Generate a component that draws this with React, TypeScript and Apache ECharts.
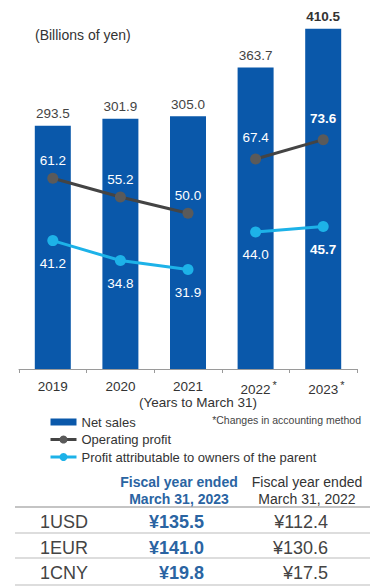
import React, { useEffect, useRef } from 'react';
import * as echarts from 'echarts';

const years = ['2019', '2020', '2021', '2022', '2023'];
const starredYears = ['2022', '2023'];
const netSales = [293.5, 301.9, 305.0, 363.7, 410.5];
const operatingProfit = [61.2, 55.2, 50.0, 67.4, 73.6];
const parentProfit = [41.2, 34.8, 31.9, 44.0, 45.7];
const breakIndex = 3; // changes in accounting method from 2022
const seriesNames = ['Net sales', 'Operating profit', 'Profit attributable to owners of the parent'];
const currencies = ['1USD', '1EUR', '1CNY'];
const rates2023 = [135.5, 141.0, 19.8];
const rates2022 = [112.4, 130.6, 17.5];
const header2023 = ['Fiscal year ended', 'March 31, 2023'];
const header2022 = ['Fiscal year ended', 'March 31, 2022'];

const FONT = '"Liberation Sans", Arial, Helvetica, sans-serif';
const BLUE = '#0a58aa';
const LIGHT = '#1db2e8';
const HEAD_BLUE = '#2a64a2';

function segment(values: number[], first: boolean) {
  const last = values.length - 1;
  return values.map((v, i) => {
    const inSeg = first ? i < breakIndex : i >= breakIndex;
    if (!inSeg) return '-';
    return { value: v, label: { fontWeight: i === last ? 'bold' : 'normal' } };
  });
}

export default function App() {
  const ref = useRef<HTMLDivElement>(null);
  useEffect(() => {
    if (!ref.current) return;
    const chart = echarts.init(ref.current, null, { renderer: 'svg' });

    const lineSeries = (name: string, values: number[], color: string, dotColor: string, pos: 'top' | 'bottom', dist: [number, number]) =>
      [true, false].map((first, k) => ({
        type: 'line',
        name,
        yAxisIndex: 1,
        data: segment(values, first),
        color: dotColor,
        symbol: 'circle',
        symbolSize: 11,
        lineStyle: { width: 3, color },
        itemStyle: { color: dotColor },
        z: 5,
        label: {
          show: true,
          position: pos,
          distance: dist[k],
          color: '#ffffff',
          fontSize: 13.5,
          fontFamily: FONT,
          formatter: (p: any) => Number(p.value).toFixed(1),
        },
      }));

    const rowY = [522, 548, 573];
    const tableGraphics: any[] = [];
    [507, 533, 558, 585].forEach((y, i) => {
      tableGraphics.push({
        type: 'line',
        shape: { x1: 15, y1: y, x2: 370, y2: y },
        style: { stroke: i === 0 ? '#c4c4c4' : '#d2d2d2', lineWidth: i === 0 ? 2 : 1.5 },
      });
    });
    header2023.forEach((t, i) => {
      tableGraphics.push({
        type: 'text', x: 179, y: 482 + i * 17,
        style: { text: t, align: 'center', verticalAlign: 'middle', fill: HEAD_BLUE, font: `bold 14px ${FONT}` },
      });
    });
    header2022.forEach((t, i) => {
      tableGraphics.push({
        type: 'text', x: 307, y: 482 + i * 17,
        style: { text: t, align: 'center', verticalAlign: 'middle', fill: '#333', font: `14px ${FONT}` },
      });
    });
    currencies.forEach((c, i) => {
      tableGraphics.push({
        type: 'text', x: 40, y: rowY[i],
        style: { text: c, align: 'left', verticalAlign: 'middle', fill: '#444', font: `18px ${FONT}` },
      });
      tableGraphics.push({
        type: 'text', x: 204, y: rowY[i],
        style: { text: '¥' + rates2023[i].toFixed(1), align: 'right', verticalAlign: 'middle', fill: HEAD_BLUE, font: `bold 18px ${FONT}` },
      });
      tableGraphics.push({
        type: 'text', x: 328, y: rowY[i],
        style: { text: '¥' + rates2022[i].toFixed(1), align: 'right', verticalAlign: 'middle', fill: '#444', font: `18px ${FONT}` },
      });
    });

    chart.setOption({
      animation: false,
      textStyle: { fontFamily: FONT },
      grid: { left: 19, right: 13, top: 20, bottom: 217 },
      legend: {
        orient: 'vertical',
        left: 44,
        top: 410,
        itemWidth: 26,
        itemHeight: 10,
        itemGap: 3.5,
        lineStyle: { width: 3 },
        textStyle: { fontSize: 13, color: '#333', fontFamily: FONT, lineHeight: 14 },
        data: [
          { name: seriesNames[0], icon: 'path://M0,0 H26 V7 H0 Z' },
          { name: seriesNames[1] },
          { name: seriesNames[2] },
        ],
      },
      xAxis: {
        type: 'category',
        data: years,
        axisLine: { lineStyle: { color: '#9a9a9a', width: 1 } },
        axisTick: { show: true, length: 4, lineStyle: { color: '#9a9a9a' } },
        axisLabel: {
          interval: 0,
          margin: 10,
          fontSize: 13.5,
          color: '#333',
          fontFamily: FONT,
          formatter: (v: string) => (starredYears.includes(v) ? `{p|*}{a|${v}}{s|*}` : `{a|${v}}`),
          rich: {
            a: { fontSize: 13.5, color: '#333', fontFamily: FONT },
            s: { fontSize: 11, color: '#333', fontFamily: FONT, padding: [0, 0, 9, 2] },
            p: { fontSize: 11, color: 'rgba(0,0,0,0)', fontFamily: FONT, padding: [0, 2, 9, 0] },
          },
        },
        name: '(Years to March 31)',
        nameLocation: 'middle',
        nameGap: 26,
        nameMoveOverlap: false,
        nameTextStyle: { fontSize: 13.5, color: '#333', fontFamily: FONT, padding: [0, 0, 0, 20] },
      },
      yAxis: [
        { type: 'value', min: 0, max: 421, show: false },
        { type: 'value', min: 0, max: 112, show: false },
      ],
      series: [
        {
          type: 'bar',
          name: seriesNames[0],
          data: netSales.map((v, i) => ({
            value: v,
            label: i === netSales.length - 1 ? { fontWeight: 'bold', color: '#333' } : {},
          })),
          barWidth: 36,
          color: BLUE,
          itemStyle: { color: BLUE },
          label: {
            show: true,
            position: 'top',
            distance: 5,
            fontSize: 13.5,
            color: '#444',
            fontFamily: FONT,
            formatter: (p: any) => Number(p.value).toFixed(1),
          },
        },
        ...lineSeries(seriesNames[1], operatingProfit, '#444444', '#5a5a5a', 'top', [5, 9]),
        ...lineSeries(seriesNames[2], parentProfit, LIGHT, LIGHT, 'bottom', [10, 10]),
      ],
      graphic: [
        {
          type: 'text', x: 35, y: 35,
          style: { text: '(Billions of yen)', align: 'left', verticalAlign: 'middle', fill: '#333', font: `14px ${FONT}` },
        },
        {
          type: 'text', x: 361, y: 420,
          style: { text: '*Changes in accounting method', align: 'right', verticalAlign: 'middle', fill: '#444', font: `10.5px ${FONT}` },
        },
        ...tableGraphics,
      ],
    });
    return () => chart.dispose();
  }, []);
  return <div ref={ref} style={{ position: 'absolute', left: 0, top: 0, width: 370, height: 586, background: '#fff' }} />;
}
